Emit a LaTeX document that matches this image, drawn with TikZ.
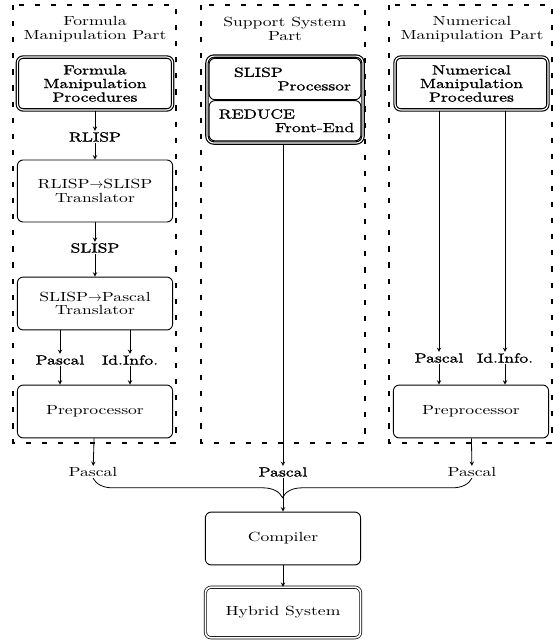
\documentclass[tikz,border=0pt]{standalone}
\usepackage{fontspec}
\setmainfont{lmroman10-regular.otf}[BoldFont=lmroman10-bold.otf, FakeStretch=1.33]
\newfontfamily\heavyfont{lmroman10-regular.otf}[FakeStretch=1.33, FakeBold=1.2]
\usepackage{tikz}
\usetikzlibrary{shapes,arrows,positioning,fit,decorations.pathreplacing}

\begin{document}
\begin{tikzpicture}[
    x=0.87pt, y=-0.87pt,
    font=\fontsize{11.5}{11.8}\selectfont,
    box/.style={rectangle, draw, rounded corners=5pt, line width=0.8pt, minimum width=135pt, minimum height=46pt, align=center, inner sep=2pt},
    procbox/.style={box, double, double distance=1pt, line width=1pt, font=\fontsize{11.5}{11.8}\heavyfont},
    resbox/.style={box, double, double distance=1.5pt, line width=0.6pt},
    part/.style={draw, line width=1pt, dash pattern=on 4.5pt off 9.5pt},
    title/.style={align=center},
    lbl/.style={inner sep=1pt},
    hlbl/.style={lbl, font=\fontsize{11.5}{11.8}\heavyfont},
    arrow/.style={->, >=stealth, line width=0.7pt}
]
    \useasboundingbox (0,0) rectangle (553,640);

    % the three parts
    \draw[part] (13,5) rectangle (176,443);
    \draw[part] (201,5) rectangle (365,443);
    \draw[part] (389,5) rectangle (552,443);
    \node[title] (ftitle) at (95,29) {Formula\\Manipulation Part};
    \node[title] (stitle) at (285,29) {Support System\\Part};
    \node[title] (ntitle) at (472,29) {Numerical\\Manipulation Part};

    % formula manipulation part
    \node[procbox] (fproc) at (95,83.5) {Formula\\Manipulation\\Procedures};
    \node[hlbl] (rlisp) at (95,137) {RLISP};
    \node[box, minimum height=54pt] (rstrans) at (95,191) {RLISP$\rightarrow$SLISP\\Translator};
    \node[hlbl] (slisp) at (95,248) {SLISP};
    \node[box] (sptrans) at (95,303.5) {SLISP$\rightarrow$Pascal\\Translator};
    \node[hlbl] (fpas) at (60,360) {Pascal};
    \node[hlbl] (finfo) at (130,360) {Id.Info.};
    \node[box] (fpre) at (95,411.5) {Preprocessor};
    \node[lbl] (lpas) at (93,472) {Pascal};

    % support system part
    \node[box, font=\fontsize{11.5}{11.8}\heavyfont, align=left, minimum width=132pt, minimum height=36pt] (slispbox) at (285,79) {\hspace*{13pt}SLISP\\\hspace*{51pt}Processor};
    \node[box, font=\fontsize{11.5}{11.8}\heavyfont, align=left, minimum width=132pt, minimum height=35pt, below=0pt of slispbox] (reducebox) {\hspace*{2.6pt}REDUCE\\\hspace*{51.6pt}Front-End};
    \node[fit=(slispbox)(reducebox), draw, double, double distance=1pt, line width=1pt, rounded corners=6pt, inner sep=1.5pt] (support) {};
    \node[hlbl] (mpas) at (283,472) {Pascal};
    \node[box] (compiler) at (283,538.5) {Compiler};
    \node[resbox, minimum height=44pt] (hybrid) at (283,612.5) {Hybrid System};

    % numerical manipulation part
    \node[procbox, minimum width=133pt] (nproc) at (471.5,83.5) {Numerical\\Manipulation\\Procedures};
    \node[hlbl] (rpas) at (439,358) {Pascal};
    \node[hlbl] (rinfo) at (505,358) {Id.Info.};
    \node[box] (npre) at (471,411.5) {Preprocessor};
    \node[lbl] (rpas2) at (472,472) {Pascal};

    \draw[arrow] (fproc) -- (rlisp);
    \draw[arrow] (rlisp) -- (rstrans);
    \draw[arrow] (rstrans) -- (slisp);
    \draw[arrow] (slisp) -- (sptrans);
    \draw[arrow] (fpas |- sptrans.south) -- (fpas);
    \draw[arrow] (finfo |- sptrans.south) -- (finfo);
    \draw[arrow] (fpas) -- (fpas |- fpre.north);
    \draw[arrow] (finfo) -- (finfo |- fpre.north);
    \draw[arrow] (fpre) -- (lpas);

    \draw[arrow] (mpas |- support.south) -- (mpas);
    \draw[arrow] (mpas) -- (compiler);
    \draw[arrow] (compiler) -- (hybrid);

    \draw[arrow] (rpas |- nproc.south) -- (rpas);
    \draw[arrow] (rinfo |- nproc.south) -- (rinfo);
    \draw[arrow] (rpas) -- (rpas |- npre.north);
    \draw[arrow] (rinfo) -- (rinfo |- npre.north);
    \draw[arrow] (npre) -- (rpas2);

    \draw[line width=0.7pt, decorate, decoration={brace, mirror, amplitude=17pt}] (lpas.south) -- (rpas2.south);
\end{tikzpicture}
\end{document}
